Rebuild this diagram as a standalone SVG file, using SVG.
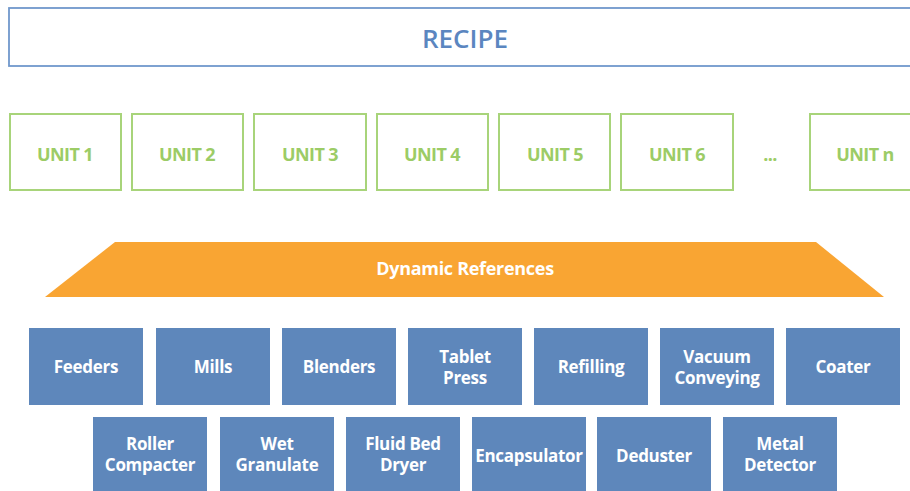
<svg xmlns="http://www.w3.org/2000/svg" width="910" height="491" viewBox="0 0 910 491">
<style>
.unit rect{fill:#fff;stroke:#a8d47a;stroke-width:2}
.unit text{fill:#9ccc66;font-family:"Open Sans","Liberation Sans",sans-serif;font-weight:700;font-size:18px;text-anchor:middle;letter-spacing:-0.6px}
.eq rect{fill:#5e87bb}
.eq text{fill:#fff;font-family:"Open Sans","Liberation Sans",sans-serif;font-weight:700;font-size:17px;text-anchor:middle;letter-spacing:-0.3px}
</style>
<rect width="910" height="491" fill="#fff"/>
<g id="recipe">
<rect x="9" y="8" width="910" height="58" fill="#fff" stroke="#7098cc" stroke-width="1.8"/>
<text x="465" y="48" fill="#5b86c0" font-family="Open Sans, Liberation Sans, sans-serif" font-weight="600" font-size="26" text-anchor="middle" textLength="86" lengthAdjust="spacingAndGlyphs">RECIPE</text>
</g>
<g id="unit1" class="unit"><rect x="10" y="114" width="111" height="76"/><text x="65" y="161">UNIT 1</text></g>
<g id="unit2" class="unit"><rect x="132" y="114" width="111" height="76"/><text x="187" y="161">UNIT 2</text></g>
<g id="unit3" class="unit"><rect x="254" y="114" width="112" height="76"/><text x="310" y="161">UNIT 3</text></g>
<g id="unit4" class="unit"><rect x="377" y="114" width="111" height="76"/><text x="432" y="161">UNIT 4</text></g>
<g id="unit5" class="unit"><rect x="499" y="114" width="111" height="76"/><text x="555" y="161">UNIT 5</text></g>
<g id="unit6" class="unit"><rect x="621" y="114" width="112" height="76"/><text x="677" y="161">UNIT 6</text></g>
<g id="ellipsis" class="unit"><text x="770" y="161">...</text></g>
<g id="unitn" class="unit"><rect x="810" y="114" width="120" height="76"/><text x="865" y="161">UNIT n</text></g>
<g id="dynamic">
<polygon points="115,242 816,242 884,297 45,297" fill="#f9a533"/>
<text x="465" y="275" fill="#fff" font-family="Open Sans, Liberation Sans, sans-serif" font-weight="700" font-size="18" text-anchor="middle" letter-spacing="-0.3">Dynamic References</text>
</g>
<g id="connectors"></g>
<g id="feeders" class="eq"><rect x="29" y="328" width="114" height="77"/><text x="86" y="373">Feeders</text></g>
<g id="mills" class="eq"><rect x="156" y="328" width="114" height="77"/><text x="213" y="373">Mills</text></g>
<g id="blenders" class="eq"><rect x="282" y="328" width="114" height="77"/><text x="339" y="373">Blenders</text></g>
<g id="tablet" class="eq"><rect x="408" y="328" width="114" height="77"/><text x="465" y="363">Tablet</text><text x="465" y="384">Press</text></g>
<g id="refilling" class="eq"><rect x="534" y="328" width="114" height="77"/><text x="591" y="373">Refilling</text></g>
<g id="vacuum" class="eq"><rect x="660" y="328" width="114" height="77"/><text x="717" y="363">Vacuum</text><text x="717" y="384">Conveying</text></g>
<g id="coater" class="eq"><rect x="786" y="328" width="114" height="77"/><text x="843" y="373">Coater</text></g>
<g id="roller" class="eq"><rect x="93" y="417" width="114" height="76"/><text x="150" y="450">Roller</text><text x="150" y="471">Compacter</text></g>
<g id="wet" class="eq"><rect x="220" y="417" width="114" height="76"/><text x="277" y="450">Wet</text><text x="277" y="471">Granulate</text></g>
<g id="fluid" class="eq"><rect x="346" y="417" width="114" height="76"/><text x="403" y="450">Fluid Bed</text><text x="403" y="471">Dryer</text></g>
<g id="encap" class="eq"><rect x="472" y="417" width="114" height="76"/><text x="529" y="462">Encapsulator</text></g>
<g id="deduster" class="eq"><rect x="597" y="417" width="114" height="76"/><text x="654" y="462">Deduster</text></g>
<g id="metal" class="eq"><rect x="723" y="417" width="114" height="76"/><text x="780" y="450">Metal</text><text x="780" y="471">Detector</text></g>
</svg>
